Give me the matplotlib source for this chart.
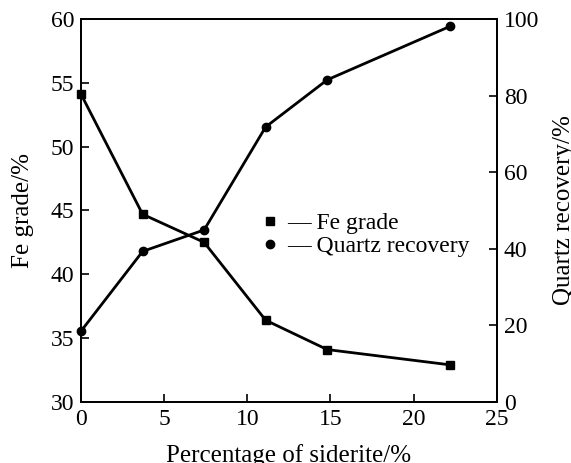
import matplotlib
matplotlib.use("Agg")
import matplotlib.pyplot as plt
from matplotlib.lines import Line2D

plt.rcParams['font.family'] = ['Liberation Serif', 'DejaVu Serif']

siderite = [0, 3.7, 7.4, 11.1, 14.8, 22.2]
fe_grade = [54.1, 44.7, 42.5, 36.4, 34.1, 32.9]
quartz_recovery = [18.5, 39.3, 44.9, 71.8, 84.1, 98.1]

fig = plt.figure(figsize=(5.71, 4.63), dpi=100)
ax = fig.add_axes([0.142, 0.132, 0.728, 0.827])
ax2 = ax.twinx()

ax.plot(siderite, fe_grade, color='black', lw=2, marker='s', ms=5.5, clip_on=False, zorder=3)
ax2.plot(siderite, quartz_recovery, color='black', lw=2, marker='o', ms=6, clip_on=False, zorder=3)

ax.set_xlim(0, 25)
ax.set_ylim(30, 60)
ax2.set_ylim(0, 100)
ax.set_xticks([0, 5, 10, 15, 20, 25])
ax.set_yticks([30, 35, 40, 45, 50, 55, 60])
ax2.set_yticks([0, 20, 40, 60, 80, 100])

for a in (ax, ax2):
    for s in a.spines.values():
        s.set_linewidth(1.3)
    a.tick_params(direction='in', length=6, width=1.2, labelsize=17, pad=5)
ax.tick_params(top=False, right=False)
ax2.tick_params(left=False, right=True)

ax.set_xlabel('Percentage of siderite/%', fontsize=18, labelpad=10)
ax.set_ylabel('Fe grade/%', fontsize=18, labelpad=12)
ax2.set_ylabel('Quartz recovery/%', fontsize=18, labelpad=10)

handles = [
    Line2D([], [], color='black', marker='s', ms=5.5, lw=0),
    Line2D([], [], color='black', marker='o', ms=6, lw=0),
]
leg = ax.legend(handles, ['Fe grade', 'Quartz recovery'],
                loc='upper left', bbox_to_anchor=(0.41, 0.525), frameon=False,
                fontsize=17, handlelength=0.6, handletextpad=0.4,
                labelspacing=0.05, borderpad=0)
# short dash after each marker, as in the original legend
for t in leg.get_texts():
    t.set_text('\u2014 ' + t.get_text())

fig.savefig('out.png', dpi=100)
